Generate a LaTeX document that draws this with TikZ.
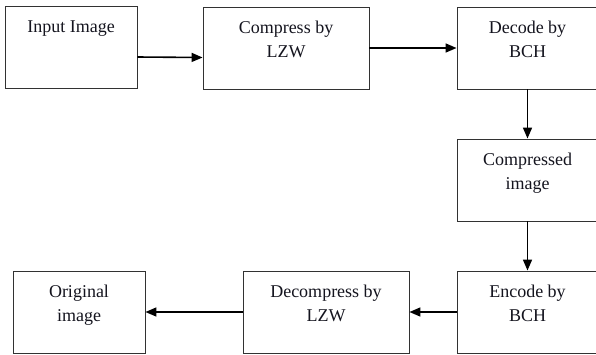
\documentclass[tikz,border=0pt]{standalone}
\usepackage{fontspec}
\setmainfont{Liberation Serif}
\usepackage{tikz}
\usetikzlibrary{positioning}
\usetikzlibrary{arrows.meta}
\definecolor{boxline}{RGB}{50,50,50}
\definecolor{boxtext}{RGB}{20,20,30}
\newcommand{\boxtext}[2]{\parbox[c][82pt][t]{#1}{\centering\rule{0pt}{26pt}#2}}

\begin{document}
\begin{tikzpicture}[x=1pt,y=-1pt]
	\useasboundingbox (0,0) rectangle (596,354);
	\begin{scope}[every node/.style={draw=boxline,rectangle,line width=0.9pt,inner sep=0pt,text=boxtext,
	              font=\fontsize{18}{24.5}\selectfont}]
	    \node (inp) at (71,47.5) {\boxtext{132pt}{Input Image}};
	    \node (comp) at (286,48) {\boxtext{166pt}{Compress by\\LZW}};
	    \node (dec) at (527.5,48) {\boxtext{141pt}{Decode by\\BCH}};
	    \node (cmp) at (527.5,180) {\boxtext{141pt}{Compressed\\image}};
	    \node (enc) at (527.5,312) {\boxtext{141pt}{Encode by\\BCH}};
	    \node (dcm) at (326,312) {\boxtext{166pt}{Decompress by\\LZW}};
	    \node (org) at (79,312) {\boxtext{132pt}{Original\\image}};
	\end{scope}

	\begin{scope}[>={Triangle[length=11pt,width=9pt]},
	              every edge/.style={draw=black,line width=1.6pt}]
    	\path [->] ([yshift=-9.5pt]inp.east) edge ([yshift=-9.5pt]comp.west);
    	\path [->] (comp) edge (dec);
    	\path [->] (dec) edge (cmp);
    	\path [->] (cmp) edge (enc);
    	\path [->] (enc) edge (dcm);
    	\path [->] (dcm) edge (org);
	\end{scope}
\end{tikzpicture}
\end{document}
